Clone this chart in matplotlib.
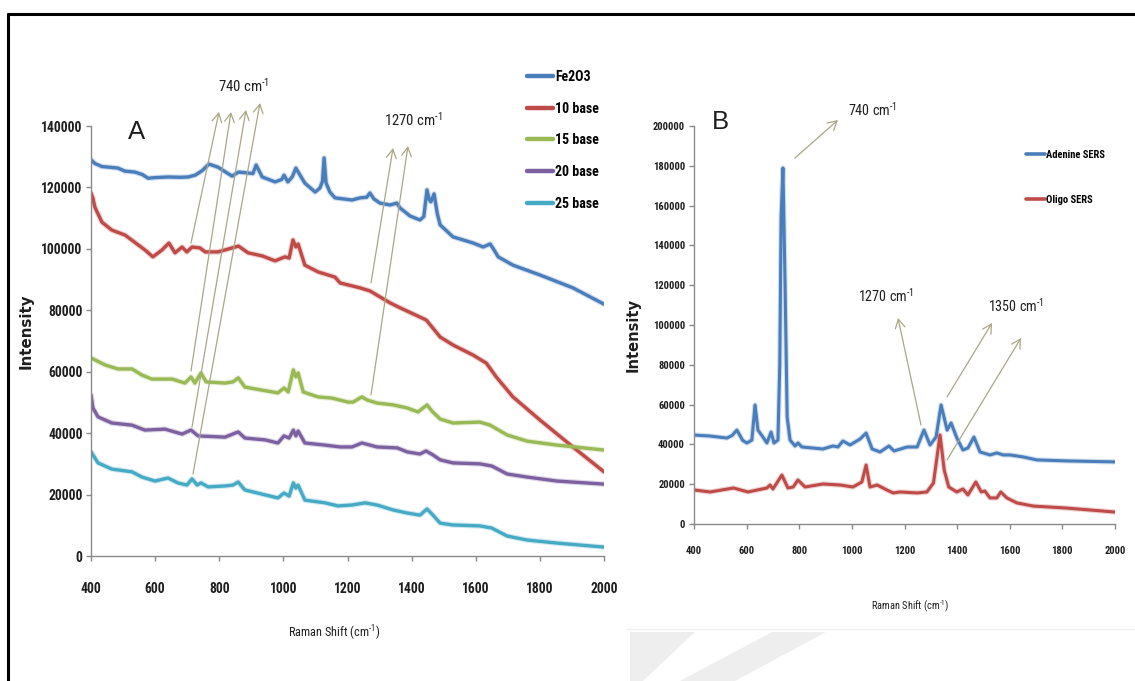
import matplotlib
matplotlib.use("Agg")
import matplotlib.pyplot as plt
from matplotlib import font_manager as fm
from matplotlib.patches import Polygon, FancyArrowPatch

# ---------------- Panel A: spectra of the oligo bases on Fe2O3 ----------------
fe2o3_shift = [400, 412, 434, 465, 484, 506, 537, 560, 578, 600, 640, 680, 703, 725, 746, 768,
               796, 820, 840, 860, 890, 905, 915, 934, 974, 995, 1002, 1014, 1028, 1039, 1052,
               1067, 1099, 1114, 1122, 1127, 1133, 1145, 1161, 1214, 1239, 1260, 1270, 1282,
               1301, 1333, 1354, 1364, 1395, 1426, 1438, 1448, 1455, 1460, 1470, 1480, 1489,
               1529, 1592, 1623, 1645, 1655, 1670, 1716, 1800, 1903, 2000]
fe2o3_int = [129000, 127800, 126800, 126500, 126300, 125300, 125000, 124200, 123000, 123200,
             123400, 123300, 123400, 124000, 125400, 127600, 126600, 125000, 123700, 125000,
             124700, 124500, 127300, 123400, 121800, 122600, 124000, 121800, 123500, 126300,
             124000, 121400, 118500, 119800, 122000, 129600, 121500, 118500, 116600, 115900,
             116600, 116800, 118200, 116300, 114900, 114300, 114900, 113300, 110700, 109400,
             110500, 119200, 116000, 115300, 117900, 111500, 107800, 103900, 101900, 100600,
             101600, 100000, 97400, 94700, 91500, 87300, 82000]

base10_shift = [400, 406, 412, 434, 465, 506, 547, 570, 593, 621, 643, 662, 684, 699, 715, 740,
                756, 796, 840, 860, 890, 934, 974, 1005, 1018, 1030, 1039, 1046, 1067, 1108,
                1161, 1177, 1239, 1270, 1333, 1364, 1426, 1446, 1489, 1529, 1592, 1633, 1664,
                1716, 1800, 1903, 2000]
base10_int = [118200, 116500, 113600, 108700, 106100, 104500, 101300, 99500, 97400, 99600,
              101900, 98700, 100600, 99000, 100600, 100300, 99000, 99000, 100300, 100900,
              98700, 97700, 96100, 97400, 97000, 102900, 100600, 101600, 94700, 92500, 90800,
              88900, 87300, 86300, 82400, 80800, 77800, 76800, 71300, 68700, 65400, 62800,
              58300, 51800, 44300, 35500, 27400]

base15_shift = [400, 444, 484, 528, 559, 590, 653, 693, 712, 724, 743, 759, 818, 843, 859, 880,
                933, 983, 1002, 1015, 1031, 1039, 1046, 1062, 1108, 1152, 1202, 1217, 1245,
                1261, 1292, 1342, 1386, 1420, 1448, 1465, 1489, 1529, 1613, 1645, 1698, 1760,
                1854, 2000]
base15_int = [64500, 62200, 60900, 60900, 58900, 57600, 57600, 56300, 58300, 56300, 59600,
              56700, 56300, 56700, 58000, 55000, 54000, 53100, 54700, 53400, 60600, 58300,
              59600, 53400, 51800, 51400, 50100, 50100, 51800, 50800, 49800, 49200, 48200,
              46900, 49200, 47000, 44600, 43300, 43600, 42600, 39400, 37400, 36100, 34500]

base20_shift = [400, 406, 422, 465, 528, 568, 631, 684, 712, 734, 818, 859, 880, 943, 983, 1002,
                1018, 1031, 1039, 1046, 1067, 1130, 1177, 1214, 1245, 1292, 1355, 1386, 1426,
                1445, 1465, 1489, 1529, 1613, 1650, 1698, 1760, 1854, 2000]
base20_int = [52400, 48200, 45300, 43300, 42600, 41000, 41300, 39700, 41000, 39100, 38700,
              40400, 38400, 37800, 36800, 39100, 38400, 41000, 39100, 40700, 36800, 36100,
              35500, 35500, 36800, 35500, 35200, 33900, 33200, 34200, 33000, 31300, 30300,
              30000, 29300, 26700, 25700, 24400, 23400]

base25_shift = [400, 422, 465, 528, 559, 600, 640, 671, 699, 715, 731, 743, 765, 818, 843, 859,
                880, 943, 983, 1002, 1018, 1031, 1039, 1046, 1067, 1130, 1170, 1214, 1255,
                1292, 1342, 1386, 1426, 1448, 1465, 1489, 1529, 1613, 1650, 1698, 1760, 1854,
                2000]
base25_int = [33900, 30300, 28300, 27400, 25700, 24400, 25400, 23800, 23100, 25100, 23100,
              23800, 22500, 22800, 23100, 24100, 21500, 19900, 18900, 20500, 19500, 23800,
              22100, 23100, 18200, 17300, 16300, 16600, 17300, 16600, 15000, 14000, 13300,
              15300, 13500, 10700, 10100, 9800, 9100, 6500, 5200, 4200, 2900]

series_a = [
    ("Fe2O3", fe2o3_shift, fe2o3_int, "#4a7ebb"),
    ("10 base", base10_shift, base10_int, "#be4b48"),
    ("15 base", base15_shift, base15_int, "#98b954"),
    ("20 base", base20_shift, base20_int, "#7d60a0"),
    ("25 base", base25_shift, base25_int, "#46aac5"),
]

# ---------------- Panel B: SERS of adenine and of the oligo ----------------
adenine_shift = [400, 461, 525, 545, 563, 585, 601, 620, 632, 643, 662, 677, 693, 704, 719, 726,
                 731, 738, 746, 754, 765, 784, 795, 810, 890, 928, 947, 966, 993, 1031, 1054,
                 1077, 1107, 1141, 1160, 1210, 1248, 1274, 1297, 1320, 1339, 1362, 1377, 1399,
                 1422, 1441, 1464, 1487, 1525, 1551, 1575, 1601, 1651, 1703, 1817, 2000]
adenine_int = [44700, 44200, 43200, 44500, 47200, 42000, 40700, 42200, 59800, 47200, 43700,
               40700, 46200, 40700, 42200, 80000, 154000, 178900, 121100, 53800, 42200, 39200,
               40700, 38700, 37700, 39200, 38700, 41700, 39700, 42700, 45700, 37700, 36200,
               39200, 36700, 38700, 38700, 47200, 39700, 43700, 59800, 47200, 50800, 43200,
               37200, 38200, 43700, 36200, 34700, 35700, 34700, 34700, 33700, 32200, 31700,
               31200]

oligo_shift = [400, 461, 550, 605, 677, 689, 700, 734, 757, 777, 795, 822, 890, 955, 1004, 1038,
               1054, 1069, 1096, 1133, 1157, 1183, 1248, 1285, 1310, 1335, 1351, 1368, 1399,
               1422, 1441, 1471, 1492, 1505, 1525, 1551, 1566, 1589, 1627, 1690, 1817, 2000]
oligo_int = [17100, 16100, 18100, 16100, 18100, 19600, 17600, 24600, 18100, 18600, 22100, 18600,
             20100, 19600, 18600, 21100, 29600, 18600, 19600, 17100, 15600, 16100, 15600,
             16100, 20600, 44700, 27100, 18600, 16100, 17600, 14600, 21100, 16100, 16600,
             13100, 13100, 16100, 13100, 10600, 9000, 8000, 6000]

series_b = [
    ("Adenine SERS", adenine_shift, adenine_int, "#4a7ebb"),
    ("Oligo SERS", oligo_shift, oligo_int, "#be4b48"),
]

W, H = 1135, 681

# prefer a narrow sans face for the labels; fall back to a regular one at smaller size
_installed = {f.name for f in fm.fontManager.ttflist}
_narrow = next((n for n in ("Liberation Sans Narrow", "DejaVu Sans Condensed",
                            "Roboto Condensed", "Open Sans Condensed") if n in _installed), None)
NARROW = [_narrow or "Liberation Sans", "DejaVu Sans"]
SCALE = 1.0 if _narrow else 0.86


def fs(size):
    return size * SCALE


plt.rcParams["font.family"] = NARROW
plt.rcParams["mathtext.default"] = "regular"

INV_CM = "cm$^{\u2010" + "1}$"

fig = plt.figure(figsize=(W / 100, H / 100), dpi=100)
fig.patch.set_facecolor("white")


def rect(left, top, right, bottom):
    return [left / W, 1 - bottom / H, (right - left) / W, (bottom - top) / H]


def style_axes(ax, size, xpad, ypad):
    for side in ("top", "right"):
        ax.spines[side].set_visible(False)
    for side in ("left", "bottom"):
        ax.spines[side].set_color("#8a8a8a")
        ax.spines[side].set_linewidth(1.0)
    ax.tick_params(direction="out", length=3.5, width=1.0, color="#8a8a8a",
                   labelsize=size, labelcolor="#1e1e1e")
    ax.tick_params(axis="x", pad=xpad)
    ax.tick_params(axis="y", pad=ypad)
    for lbl in ax.get_xticklabels() + ax.get_yticklabels():
        lbl.set_fontweight("bold")


def draw_spectra(ax, series, lw):
    for name, xs, ys, color in series:
        ax.plot(xs, ys, color=color, lw=lw + 1.6, alpha=0.25, solid_capstyle="round",
                label="_nolegend_")
        ax.plot(xs, ys, color=color, lw=lw, solid_capstyle="round", label=name)


axA = fig.add_axes(rect(91, 126, 604, 556))
draw_spectra(axA, series_a, 2.4)
axA.set_xlim(400, 2000)
axA.set_ylim(0, 140000)
axA.set_xticks(range(400, 2001, 200))
axA.set_yticks(range(0, 140001, 20000))
style_axes(axA, fs(9.8), 15.5, 2.5)
legA = axA.legend(loc="upper left", bbox_to_anchor=(527 / W, 1 - 70 / H),
                  bbox_transform=fig.transFigure, frameon=False, handlelength=1.9,
                  handletextpad=0.15, labelspacing=1.27, borderpad=0, borderaxespad=0,
                  prop={"family": NARROW, "size": fs(10), "weight": "bold"})
for ln in legA.get_lines():
    ln.set_linewidth(3.2)

axB = fig.add_axes(rect(694, 126, 1115, 524))
draw_spectra(axB, series_b, 2.2)
axB.set_xlim(400, 2000)
axB.set_ylim(0, 200000)
axB.set_xticks(range(400, 2001, 200))
axB.set_yticks(range(0, 200001, 20000))
style_axes(axB, fs(7.6), 12.5, 3.0)
legB = axB.legend(loc="upper left", bbox_to_anchor=(1026 / W, 1 - 150 / H),
                  bbox_transform=fig.transFigure, frameon=False, handlelength=1.8,
                  handletextpad=0.1, labelspacing=3.3, borderpad=0, borderaxespad=0,
                  prop={"family": NARROW, "size": fs(7.6), "weight": "bold"})
for ln in legB.get_lines():
    ln.set_linewidth(2.6)

# ---------------- overlay in pixel units: frame, labels, peak arrows ----------------
ov = fig.add_axes([0, 0, 1, 1], zorder=5)
ov.set_xlim(0, W)
ov.set_ylim(H, 0)
ov.axis("off")

# faint background stripes under panel B
for pts in ([(630, 632), (695, 632), (643, 681), (630, 681)],
            [(772, 632), (826, 632), (735, 681), (680, 681)]):
    ov.add_patch(Polygon(pts, closed=True, facecolor="#eeeeee", edgecolor="none", zorder=0))
ov.plot([627, W], [629, 629], color="#f0f0f0", lw=1.0, zorder=0)

# frame
ov.plot([8, 8], [13, H], color="black", lw=2.2, solid_capstyle="butt")
ov.plot([7, W], [14, 14], color="black", lw=2.2, solid_capstyle="butt")

ARROW = dict(arrowstyle="->,head_length=0.45,head_width=0.25", mutation_scale=14,
             color="#a9a786", lw=0.9, shrinkA=0, shrinkB=0)
arrows = [((191, 243), (219, 112)), ((191, 371), (231, 112)), ((192, 427), (246, 110)),
          ((193, 474), (260, 103)), ((371, 283), (393, 148)), ((371, 395), (408, 146)),
          ((795, 158), (838, 120)), ((921, 425), (898, 318)), ((947, 397), (992, 323)),
          ((947, 460), (1021, 338))]
for start, end in arrows:
    ov.add_patch(FancyArrowPatch(start, end, **ARROW))

peak_labels = [("740 " + INV_CM, 244, 86, 10.6), ("1270 " + INV_CM, 413, 120, 10.6),
               ("740 " + INV_CM, 873, 110, 10.2), ("1270 " + INV_CM, 886, 296, 10.2),
               ("1350 " + INV_CM, 1016, 306, 10.2)]
for txt, x, y, size in peak_labels:
    ov.text(x, y, txt, ha="center", va="center", fontsize=fs(size), color="#1e1e1e",
            family=NARROW)

ov.text(137, 132, "A", ha="center", va="center", fontsize=18.5, color="#1e1e1e",
        family=["Liberation Sans", "DejaVu Sans"])
ov.text(720, 122, "B", ha="center", va="center", fontsize=18.5, color="#1e1e1e",
        family=["Liberation Sans", "DejaVu Sans"])

ov.text(334, 633, "Raman Shift (" + INV_CM + ")", ha="center", va="center",
        fontsize=fs(8.8), color="#1e1e1e", family=NARROW)
ov.text(910, 606, "Raman Shift (" + INV_CM + ")", ha="center", va="center",
        fontsize=fs(7.5), color="#1e1e1e", family=NARROW)
ov.text(26, 331, "Intensity", ha="center", va="center", rotation=90, fontsize=10.8,
        fontweight="bold", color="#1e1e1e", family=["DejaVu Sans"])
ov.text(633, 335, "Intensity", ha="center", va="center", rotation=90, fontsize=10.5,
        fontweight="bold", color="#1e1e1e", family=["DejaVu Sans"])

fig.savefig("out.png", dpi=100, facecolor="white")
